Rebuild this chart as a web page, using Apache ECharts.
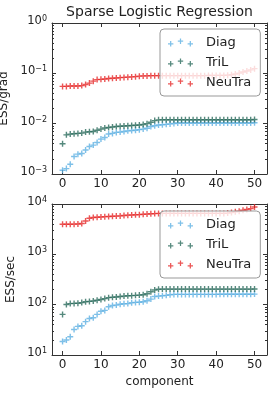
<!DOCTYPE html>
<html><head><meta charset="utf-8">
<script src="https://cdn.jsdelivr.net/npm/echarts@6/dist/echarts.min.js"></script>
<style>html,body{margin:0;padding:0;background:#fff}#c{width:274px;height:394px}</style>
</head><body><div id="c"></div>
<script>
const components = [0,1,2,3,4,5,6,7,8,9,10,11,12,13,14,15,16,17,18,19,20,21,22,23,24,25,26,27,28,29,30,31,32,33,34,35,36,37,38,39,40,41,42,43,44,45,46,47,48,49,50];
const diagGrad = [0.00119,0.00128,0.00156,0.00222,0.00248,0.00255,0.0030,0.00352,0.00375,0.00423,0.00494,0.00532,0.00622,0.0064,0.0067,0.0068,0.0070,0.0072,0.0073,0.0074,0.0076,0.0078,0.0081,0.0088,0.0091,0.0094,0.0095,0.0097,0.0099,0.0101,0.0103,0.0103,0.0103,0.0103,0.0103,0.0103,0.0103,0.0103,0.0103,0.0103,0.0103,0.0103,0.0103,0.0103,0.0103,0.0103,0.0103,0.0103,0.0103,0.0103,0.0104];
const trilGrad = [0.0040,0.0060,0.0062,0.0063,0.0064,0.0065,0.0068,0.0069,0.0070,0.0074,0.0078,0.0082,0.0084,0.0086,0.0088,0.0089,0.0090,0.0091,0.0092,0.0093,0.0094,0.0096,0.0100,0.0107,0.0115,0.0119,0.0120,0.0120,0.0120,0.0120,0.0120,0.0120,0.0120,0.0120,0.0120,0.0120,0.0120,0.0120,0.0120,0.0120,0.0120,0.0120,0.0120,0.0120,0.0120,0.0120,0.0120,0.0120,0.0120,0.0120,0.0121];
const neutraGrad = [0.055,0.055,0.056,0.056,0.056,0.057,0.060,0.064,0.070,0.075,0.076,0.077,0.079,0.080,0.081,0.082,0.083,0.084,0.085,0.086,0.088,0.089,0.089,0.090,0.090,0.090,0.090,0.090,0.090,0.090,0.090,0.090,0.090,0.090,0.090,0.090,0.090,0.090,0.091,0.091,0.091,0.091,0.091,0.092,0.094,0.097,0.101,0.106,0.111,0.117,0.124];
const diagSec = [18.6,19.8,23,32,37,38,46,53,55,64,74,77,91,96,98,102,104,105,109,111,112,114,120,129,145,148,150,153,157,160,160,160,160,160,160,160,160,160,160,160,160,161,161,161,161,161,161,161,161,161,162];
const trilSec = [64,101,105,106,107,110,114,116,118,122,127,132,138,140,142,145,148,150,151,153,155,157,165,180,195,203,204,204,204,204,204,204,204,204,204,204,204,204,204,204,204,204,204,204,204,204,204,204,204,204,205];
const neutraSec = [3950,3950,3970,3980,4000,4100,4600,5200,5400,5450,5500,5600,5650,5700,5750,5800,5900,6000,6050,6100,6150,6250,6300,6400,6450,6500,6500,6500,6500,6500,6500,6500,6500,6500,6500,6500,6500,6500,6500,6500,6500,6500,6500,6600,6800,7000,7200,7500,7800,8100,8700];
const seriesNames = ['Diag','TriL','NeuTra'];
const colors = ['#5eb0e2','#2b6b5d','#e62a2a'];
const xTicks = [0,10,20,30,40,50];
const titleText = 'Sparse Logistic Regression';

const FONT = 'DejaVu Sans';
const FRAME = '#333';
function plus(cx,cy,h,t){return `M${cx-t},${cy-h}H${cx+t}V${cy-t}H${cx+h}V${cy+t}H${cx+t}V${cy+h}H${cx-t}V${cy+t}H${cx-h}V${cy-t}H${cx-t}Z`;}
const marker = 'path://' + plus(0,0,3,0.7);
const legendIcon = 'path://' + plus(3,5.5,2.6,0.6) + plus(12.5,3,2.6,0.6) + plus(22,5.5,2.6,0.6);

function minorLogValues(e0,e1){const out=[];for(let e=e0;e<e1;e++){for(let k=2;k<=9;k++){out.push(Math.log10(k)+e);}}return out;}

function logLabel(v){const e=Math.round(Math.log10(v));return '{b|10}{s|'+(e<0?'\u2212':'')+Math.abs(e)+'}';}
const richLog = {
  b:{fontSize:11.5,fontFamily:FONT,color:'#222',lineHeight:12,verticalAlign:'bottom',padding:[4,0,0,0]},
  s:{fontSize:8,fontFamily:FONT,color:'#222',lineHeight:8,verticalAlign:'top'}
};

const grids = [
  {left:52,top:23,width:215,height:151,show:false,containLabel:false,outerBoundsMode:'none'},
  {left:52,top:204,width:215,height:151,show:false,containLabel:false,outerBoundsMode:'none'}
];

function xAxes(gi, withName){
  return [
    {type:'value',gridIndex:gi,position:'bottom',min:-2.75,max:53.25,
     axisLine:{show:true,onZero:false,lineStyle:{color:FRAME,width:1}},
     axisTick:{show:true,inside:true,length:4,customValues:xTicks,lineStyle:{color:FRAME}},
     axisLabel:{show:true,customValues:xTicks,margin:4,fontSize:12,fontFamily:FONT,color:'#222'},
     splitLine:{show:false},
     name:withName?'component':'',nameLocation:'middle',nameGap:21,
     nameTextStyle:{fontSize:12,fontFamily:FONT,color:'#222'}},
    {type:'value',gridIndex:gi,position:'top',min:-2.75,max:53.25,
     axisLine:{show:true,onZero:false,lineStyle:{color:FRAME,width:1}},
     axisTick:{show:true,inside:true,length:4,customValues:xTicks,lineStyle:{color:FRAME}},
     axisLabel:{show:false},splitLine:{show:false}}
  ];
}
function yAxes(gi,min,max,e0,e1,name){
  const minor = minorLogValues(e0,e1);
  return [
    {type:'log',logBase:10,gridIndex:gi,position:'left',min:min,max:max,
     axisLine:{show:true,onZero:false,lineStyle:{color:FRAME,width:1}},
     axisTick:{show:true,inside:true,length:4,lineStyle:{color:FRAME}},
     axisLabel:{show:true,margin:5,formatter:logLabel,rich:richLog,padding:[0,0,4,0]},
     splitLine:{show:false},minorTick:{show:false},
     name:name,nameLocation:'middle',nameGap:34,
     nameTextStyle:{fontSize:12,fontFamily:FONT,color:'#222'}},
    {type:'log',logBase:10,gridIndex:gi,position:'right',min:min,max:max,
     axisLine:{show:true,onZero:false,lineStyle:{color:FRAME,width:1}},
     axisTick:{show:true,inside:true,length:4,lineStyle:{color:FRAME}},
     axisLabel:{show:false},splitLine:{show:false}},
    {type:'value',gridIndex:gi,position:'left',min:e0,max:e1,
     axisLine:{show:false,onZero:false},
     axisTick:{show:true,inside:true,length:2,customValues:minor,lineStyle:{color:FRAME}},
     axisLabel:{show:false},splitLine:{show:false}},
    {type:'value',gridIndex:gi,position:'right',min:e0,max:e1,
     axisLine:{show:false,onZero:false},
     axisTick:{show:true,inside:true,length:2,customValues:minor,lineStyle:{color:FRAME}},
     axisLabel:{show:false},splitLine:{show:false}}
  ];
}

function mkSeries(name,color,vals,xi,yi){
  return {type:'scatter',name:name,xAxisIndex:xi,yAxisIndex:yi,
    data:components.map((c,i)=>[c,vals[i]]),
    symbol:marker,symbolSize:6,
    itemStyle:{color:color,opacity:0.8},
    emphasis:{disabled:true},animation:false};
}
function mkLegend(top){
  return {orient:'vertical',left:160,top:top,padding:[7,9,7,8],itemGap:7,
    itemWidth:25,itemHeight:8.1,selectedMode:false,
    backgroundColor:'rgba(255,255,255,0.8)',borderColor:'#999',borderWidth:1,borderRadius:4,
    textStyle:{fontSize:13,fontFamily:FONT,color:'#222',padding:[0,0,0,8]},
    data:seriesNames.map(n=>({name:n,icon:legendIcon}))};
}

const chart = echarts.init(document.getElementById('c'),null,{renderer:'canvas'});
chart.setOption({
  animation:false,
  backgroundColor:'#fff',
  title:{text:titleText,left:159.5,top:5,padding:0,textAlign:'center',
    textStyle:{fontSize:14,fontWeight:'normal',fontFamily:FONT,color:'#222'}},
  grid:grids,
  legend:[mkLegend(29),mkLegend(211)],
  xAxis:[...xAxes(0,false),...xAxes(1,true)],
  yAxis:[...yAxes(0,0.001,1,-3,0,'ESS/grad'),...yAxes(1,10,10000,1,4,'ESS/sec')],
  series:[
    mkSeries('Diag',colors[0],diagGrad,0,0),
    mkSeries('TriL',colors[1],trilGrad,0,0),
    mkSeries('NeuTra',colors[2],neutraGrad,0,0),
    mkSeries('Diag',colors[0],diagSec,2,4),
    mkSeries('TriL',colors[1],trilSec,2,4),
    mkSeries('NeuTra',colors[2],neutraSec,2,4)
  ]
});
</script></body></html>
